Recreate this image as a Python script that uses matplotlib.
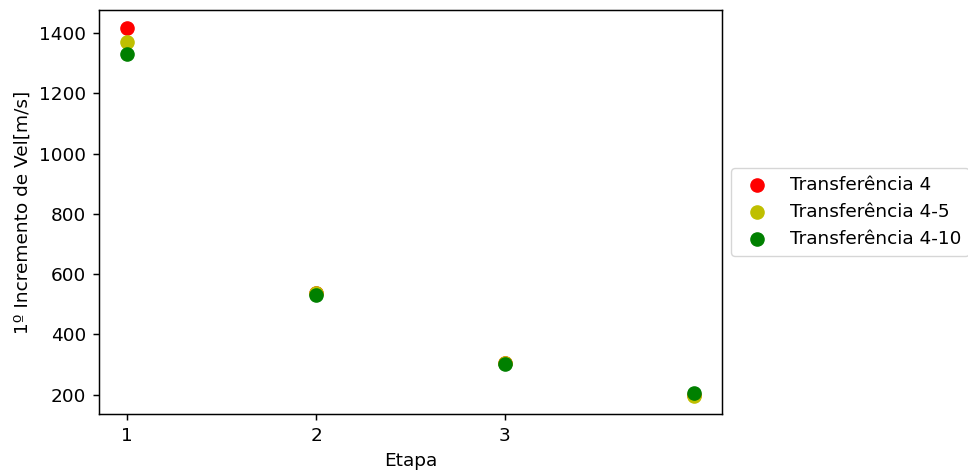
import matplotlib
matplotlib.use("Agg")
import matplotlib.pyplot as plt

etapas = [1, 2, 3, 4]
transf_4 = [1416, 538, 304, 198]
transf_4_5 = [1370, 537, 304, 197]
transf_4_10 = [1330, 530, 303, 205]
xticks = [1, 2, 3]
labels = ["Transferência 4", "Transferência 4-5", "Transferência 4-10"]

k = 1.33
plt.rcParams.update({
    "font.size": 10 * k,
    "axes.linewidth": 0.8 * k,
    "xtick.major.size": 3.5 * k,
    "ytick.major.size": 3.5 * k,
    "xtick.major.width": 0.8 * k,
    "ytick.major.width": 0.8 * k,
    "xtick.major.pad": 3.5 * k,
    "ytick.major.pad": 3.5 * k,
    "axes.labelpad": 4 * k,
})

fig = plt.figure(figsize=(9.68, 4.74), dpi=100)
ax = fig.add_axes([0.1023, 0.1266, 0.6436, 0.8524])
ax.scatter(etapas, transf_4, color="r", s=90, label=labels[0])
ax.scatter(etapas, transf_4_5, color="y", s=90, label=labels[1])
ax.scatter(etapas, transf_4_10, color="g", s=90, label=labels[2])
ax.set_xticks(xticks)
ax.set_xlabel("Etapa")
ax.set_ylabel("1º Incremento de Vel[m/s]")
ax.legend(loc="center left", bbox_to_anchor=(1.0, 0.5))
fig.savefig("out.png", dpi=100)
